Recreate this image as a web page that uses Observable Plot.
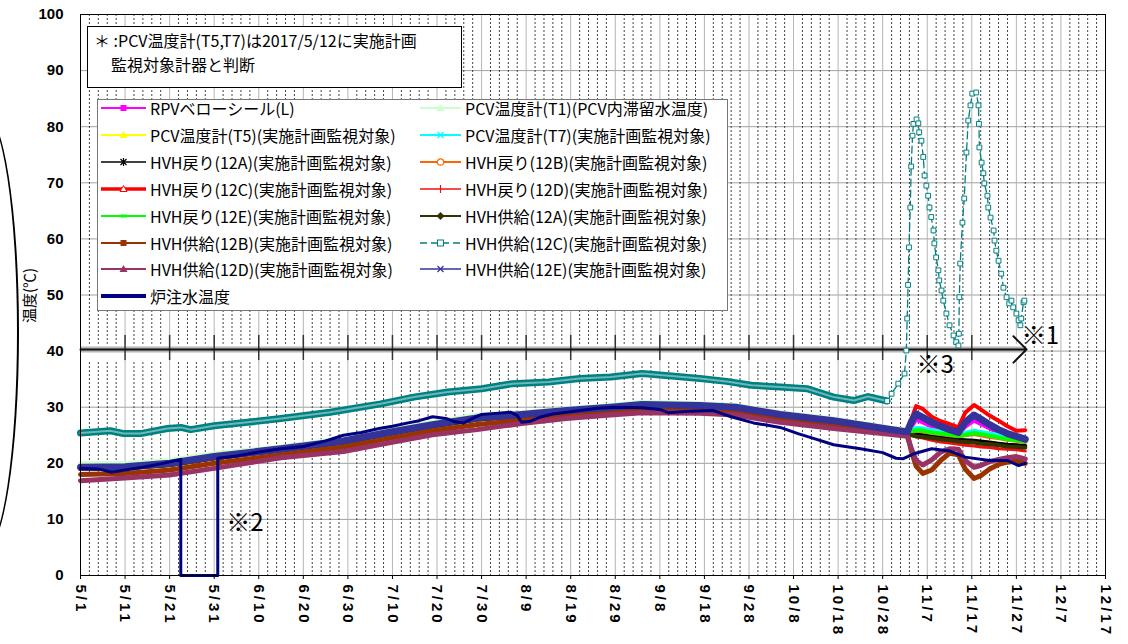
<!DOCTYPE html>
<html><head><meta charset="utf-8">
<script src="https://cdn.jsdelivr.net/npm/d3@7"></script>
<script src="https://cdn.jsdelivr.net/npm/@observablehq/plot@0.6"></script>
<style>
html,body{margin:0;padding:0;background:#fff;}
#wrap{position:relative;width:1128px;height:644px;overflow:hidden;}
#note{position:absolute;left:87px;top:26px;width:375px;height:62px;border:1px solid #000;background:#fff;box-sizing:border-box;font-family:"Noto Sans CJK JP";font-size:16px;line-height:23.5px;padding:2px 0 0 23px;text-indent:-17px;white-space:nowrap;}
#legend{position:absolute;left:97px;top:99px;width:631px;height:212px;border:1px solid #777;background:#fff;box-sizing:border-box;font-family:"Noto Sans CJK JP";font-size:16px;}
.item{position:absolute;height:20px;display:flex;align-items:center;white-space:nowrap;line-height:20px;}
.item svg{display:block;}
#ellipse{position:absolute;left:-51px;top:112px;width:70px;height:440px;border:2px solid #000;border-radius:50%;box-sizing:border-box;}
</style></head><body><div id="wrap"></div>
<script>
// ---- axis tick labels ----
const tickDays = [0,10,20,30,40,50,60,70,80,90,100,110,120,130,140,150,160,170,180,190,200,210,220,230];
const tickLabels = ["5/1","5/11","5/21","5/31","6/10","6/20","6/30","7/10","7/20","7/30","8/9","8/19","8/29","9/8","9/18","9/28","10/8","10/18","10/28","11/7","11/17","11/27","12/7","12/17"];
const yTicks = [0,10,20,30,40,50,60,70,80,90,100];

// ---- data (days since 5/1) ----
const days = [0,10,20,30,45,59,69,79,89,99,109,119,126,139,147,157,169,181,185.5,186.5,187.5,189,191,193,195,197,198.5,200.5,202,204,206,208,210,212];
const rpv    = [19.2,19.3,19.9,21.1,22.5,23.9,25.4,26.8,28.0,28.6,29.3,29.9,30.4,30.2,29.9,28.6,27.5,26.0,25.5,26.5,27.8,27.3,26.5,26.0,25.5,25.0,26.5,27.6,27.0,26.2,25.4,24.9,24.5,24.0];
const pcvT1  = [19.9,19.9,20.5,21.7,22.9,24.4,25.9,27.3,28.6,29.0,29.7,30.3,30.9,30.6,30.3,29.0,27.9,26.4,25.9,26.0,26.2,26.1,25.8,25.6,25.4,25.2,25.4,25.7,25.5,25.2,24.9,24.6,24.3,24.0];
const pcvT5  = [19.0,19.1,19.7,20.9,22.3,23.7,25.2,26.6,27.8,28.4,29.1,29.7,30.2,30.0,29.7,28.4,27.3,25.8,25.5,25.8,26.2,26.1,25.8,25.5,25.2,24.9,25.3,25.7,25.5,25.2,24.9,24.6,24.3,24.0];
const pcvT7  = [19.1,19.2,19.8,21.0,22.4,23.8,25.3,26.7,27.9,28.5,29.2,29.8,30.3,30.1,29.8,28.5,27.4,25.9,25.6,25.9,26.3,26.2,25.9,25.6,25.3,25.0,25.4,25.8,25.6,25.3,25.0,24.7,24.4,24.1];
const ret12A = [19.0,19.1,19.7,20.9,22.3,23.7,25.2,26.6,27.8,28.4,29.1,29.7,30.2,30.0,29.7,28.4,27.3,25.8,25.4,25.3,25.1,25.0,24.8,24.6,24.4,24.2,24.1,24.0,23.9,23.7,23.5,23.3,23.2,23.1];
const ret12B = [19.1,19.2,19.8,21.0,22.4,23.8,25.3,26.7,27.9,28.5,29.2,29.8,30.3,30.1,29.8,28.5,27.4,25.9,25.5,25.6,25.8,25.7,25.4,25.2,25.0,24.8,25.0,25.2,25.0,24.7,24.5,24.2,24.0,23.8];
const ret12C = [19.2,19.3,19.9,21.1,22.5,23.9,25.4,26.8,28.0,28.6,29.3,29.9,30.4,30.2,29.9,28.6,27.5,26.0,25.6,28.0,30.2,29.7,28.3,27.5,27.0,26.4,29.0,30.4,29.6,28.5,27.6,26.6,25.8,25.9];
const ret12D = [18.9,19.0,19.6,20.8,22.2,23.6,25.1,26.5,27.7,28.3,29.0,29.6,30.1,29.9,29.6,28.3,27.2,25.7,25.3,25.0,24.7,24.5,24.1,23.8,23.6,23.4,23.2,23.1,22.9,22.8,22.6,22.5,22.4,22.2];
const ret12E = [19.1,19.2,19.8,21.0,22.4,23.8,25.3,26.7,27.9,28.5,29.2,29.8,30.3,30.1,29.8,28.5,27.4,25.9,25.6,25.7,25.9,25.8,25.5,25.3,25.1,24.9,25.1,25.4,25.2,24.9,24.6,24.3,24.1,23.9];
const sup12A = [19.0,19.1,19.7,20.9,22.3,23.7,25.2,26.6,27.8,28.4,29.1,29.7,30.2,30.0,29.7,28.4,27.3,25.8,25.2,25.0,24.8,24.7,24.5,24.3,24.1,23.9,23.8,23.7,23.5,23.4,23.2,23.0,22.9,22.8];
const sup12B = [18.0,18.2,18.8,20.0,21.5,22.9,24.4,25.8,26.9,27.7,28.6,29.2,29.5,29.5,29.2,27.9,26.8,25.8,25.3,22.0,19.5,18.2,18.8,20.5,21.8,21.5,19.0,17.3,17.8,19.0,19.8,20.2,20.4,20.0];
const sup12D = [16.9,17.4,17.9,19.1,21.0,22.1,23.6,25.1,26.0,27.1,28.0,28.6,29.0,28.9,28.6,27.3,26.2,25.2,24.8,22.5,20.5,19.7,20.6,22.0,22.6,22.5,20.5,19.3,19.6,20.3,20.7,21.0,21.2,20.8];
const sup12E = [19.3,19.4,20.0,21.2,22.6,24.0,25.5,26.9,28.1,28.7,29.4,30.0,30.5,30.3,30.0,28.7,27.6,26.1,25.6,27.5,28.8,28.2,27.3,26.6,26.0,25.5,27.3,28.6,27.9,26.9,26.0,25.3,24.8,24.3];

const tealBaseDays = [0,6.7,9.7,13.5,19.5,22.5,24.7,30,37.5,45,56,67.4,74.8,82.4,90,97,105,112,119,126,132,139,145,150.5,157,163,169,173.6,176.7,181];
const tealBaseVals = [25.4,25.8,25.3,25.3,26.2,26.4,26.0,26.7,27.3,28.0,29.1,30.6,31.8,32.7,33.3,34.2,34.5,35.1,35.4,36.0,35.6,35.1,34.6,33.9,33.6,33.3,31.8,31.2,31.9,31.1];
const tealSpikeDays = [181,182,183.5,184.9,185.3,185.5,185.7,185.9,186.2,186.4,186.7,186.9,187.6,188.0,188.2,188.7,189.1,189.4,189.8,190.2,190.5,190.9,191.4,191.6,192.0,192.5,192.7,193.2,193.6,194.3,195.0,195.9,196.5,197.0,197.1,197.2,197.4,197.9,198.3,198.8,199.2,199.7,200.1,201.0,201.5,201.6,201.7,202.2,202.6,202.8,203.5,203.7,204.2,204.9,205.1,205.5,206.0,206.6,207.1,207.8,208.4,208.9,209.3,210.0,210.5,210.9,211.1,211.6,211.8];
const tealSpikeVals = [31.1,32.4,34.2,36.0,40.1,45.8,51.8,58.5,65.6,72.9,78.4,80.5,81.3,80.6,79.0,77.5,74.6,71.3,69.5,67.7,65.6,63.9,61.5,59.2,56.7,54.4,52.6,50.8,49.0,46.7,44.6,42.8,41.6,41.0,43.1,49.6,55.6,62.9,67.2,75.4,81.1,83.8,85.9,86.1,83.8,80.5,76.3,73.6,71.7,69.9,67.7,65.6,63.8,61.5,59.7,57.9,56.1,53.8,51.3,49.6,48.5,49.0,47.8,46.7,45.5,44.6,45.8,48.7,49.0];

const navyDays = [0,4,7,10,14,18,22.5,22.5,30.8,30.8,35,40,45,50,55,59,63,67,70,73.5,76,79,82,84,86,88,90,93,96.6,98,99,101,103,106,110,116,120,126,130,132,137,142,146,151,157,161,165,169,175,180,183,184.5,187,191,195,198.5,204,208,210.5,212];
const navyVals = [19.1,19.0,18.4,18.8,19.3,19.9,20.7,0,0,20.9,21.3,22.0,22.6,23.0,24.0,25.0,25.5,26.2,26.6,27.2,27.6,28.3,28.0,27.4,27.2,28.0,28.7,28.9,29.1,28.5,27.3,27.5,28.2,28.8,29.2,29.8,30.0,29.9,29.6,29.0,29.3,29.4,28.3,27.2,26.4,25.3,24.3,23.3,22.6,21.9,20.9,20.8,21.7,22.6,22.2,21.1,20.5,20.5,19.6,20.0];

// ---- annotations ----
const arrowLine = [{from:0, to:212.3, at:40.3}];
const arrowBand = [{x1:0, x2:211.5, y1:38.2, y2:41.2}];
const arrowTicks = [10,20,30,40,50,60,70,80,90,100,110,120,130,140,150,160,170,180,190,200];
const notes = [{t:"※1", day:215.4, v:42.6},{t:"※2", day:36.9, v:9.3},{t:"※3", day:191.8, v:37.4}];
const noteLines = ["＊ :PCV温度計(T5,T7)は2017/5/12に実施計画","監視対象計器と判断"];

// ---- series table ----
const series = [
  {name:"RPVベローシール(L)", d:days, v:rpv, color:"#ff00ff", w:4, lw:2, mk:"sq"},
  {name:"PCV温度計(T1)(PCV内滞留水温度)", d:days, v:pcvT1, color:"#ccffcc", w:5, lw:2, mk:"tri"},
  {name:"PCV温度計(T5)(実施計画監視対象)", d:days, v:pcvT5, color:"#ffff00", w:4, lw:2, mk:"tri"},
  {name:"PCV温度計(T7)(実施計画監視対象)", d:days, v:pcvT7, color:"#00ffff", w:4, lw:2, mk:"x"},
  {name:"HVH戻り(12A)(実施計画監視対象)", d:days, v:ret12A, color:"#000000", w:4, lw:1.5, mk:"star"},
  {name:"HVH戻り(12B)(実施計画監視対象)", d:days, v:ret12B, color:"#ff6600", w:4, lw:2, mk:"circ"},
  {name:"HVH戻り(12C)(実施計画監視対象)", d:days, v:ret12C, color:"#ff0000", w:4, lw:3.5, mk:"triO"},
  {name:"HVH戻り(12D)(実施計画監視対象)", d:days, v:ret12D, color:"#ee1111", w:3, lw:1.5, mk:"plus"},
  {name:"HVH戻り(12E)(実施計画監視対象)", d:days, v:ret12E, color:"#00ff00", w:4, lw:2, mk:"dash"},
  {name:"HVH供給(12A)(実施計画監視対象)", d:days, v:sup12A, color:"#333300", w:4, lw:2, mk:"dia"},
  {name:"HVH供給(12B)(実施計画監視対象)", d:days, v:sup12B, color:"#993300", w:5, lw:2, mk:"sq"},
  {name:"HVH供給(12C)(実施計画監視対象)", d:tealBaseDays, v:tealBaseVals, color:"#008080", w:7, lw:1.6, mk:"sqO", dash:"7,4"},
  {name:"HVH供給(12D)(実施計画監視対象)", d:days, v:sup12D, color:"#993366", w:5, lw:2, mk:"tri"},
  {name:"HVH供給(12E)(実施計画監視対象)", d:days, v:sup12E, color:"#333399", w:7, lw:1.6, mk:"x"},
  {name:"炉注水温度", d:navyDays, v:navyVals, color:"#000080", w:3, lw:4, mk:null}
];
const rows = (ds, vs) => ds.map((d, i) => ({day: d, v: vs[i]}));

const minorDays = d3.range(0, 231, 2).filter(d => d % 10 !== 0);

const lineMarks = [];
series.forEach((s, i) => {
  lineMarks.push(Plot.line(rows(s.d, s.v), {x:"day", y:"v", stroke:s.color, strokeWidth:s.w, strokeLinejoin:"round", strokeLinecap:"round"}));
  if (i === 11) lineMarks.push(Plot.line(rows(s.d, s.v), {x:"day", y:"v", stroke:"#6ab8b8", strokeWidth:2}));
});
const tealSpike = rows(tealSpikeDays, tealSpikeVals);

const chart = Plot.plot({
  width: 1128, height: 644,
  marginTop: 14, marginRight: 23, marginBottom: 69, marginLeft: 80,
  style: {fontFamily: "Liberation Sans, Arial, sans-serif", fontSize: "15px", background: "white"},
  x: {domain: [0, 230]},
  y: {domain: [0, 100]},
  marks: [
    Plot.ruleY(yTicks, {stroke: "#a0a0a0"}),
    Plot.ruleX(minorDays, {stroke: "#222", strokeDasharray: "2,2", strokeOpacity: 0.85}),
    Plot.ruleX(tickDays, {stroke: "#b5b5b5"}),
    Plot.rect(arrowBand, {x1:"x1", x2:"x2", y1:"y1", y2:"y2", fill:"white"}),
    Plot.ruleY(arrowLine, {y:"at", x1:"from", x2:"to", stroke:"#999", strokeWidth:6, strokeOpacity:0.7}),
    Plot.ruleX(arrowTicks.map(d => ({d})), {x:"d", y1: () => 38.3, y2: () => 42.8, stroke:"#333", strokeWidth:1.5}),
    Plot.arrow(arrowLine, {x1:"from", x2:"to", y1:"at", y2:"at", stroke:"#111", strokeWidth:2, headAngle:90, headLength:14}),
    ...lineMarks,
    Plot.line(tealSpike, {x:"day", y:"v", stroke:"#008080", strokeWidth:1.3, strokeDasharray:"7,4"}),
    Plot.dot(tealSpike, {x:"day", y:"v", symbol:"square", r:2.7, stroke:"#008080", fill:"white", strokeWidth:1}),
    Plot.text(notes, {x:"day", y:"v", text:"t", fontSize:24, fontFamily:"Noto Sans CJK JP", fill:"black"}),
    Plot.text([{t:"温度(℃)", v:45}], {y:"v", text:"t", frameAnchor:"left", dx:-50, rotate:-90, fontSize:15, fontFamily:"Noto Sans CJK JP"}),
    Plot.frame({stroke:"black"}),
    Plot.axisX({ticks: tickDays, tickFormat: d => tickLabels[tickDays.indexOf(d)], tickRotate: 90, tickSize: 4, tickPadding: 5, label: null, fontSize: 15, fontWeight: "bold"}),
    Plot.axisY({ticks: yTicks, tickSize: 0, tickPadding: 17, label: null, fontSize: 15, fontWeight: "bold"})
  ]
});
d3.select(chart).selectAll('[aria-label="x-axis tick label"] text').attr("letter-spacing", "3px");

const wrap = document.getElementById("wrap");
wrap.appendChild(chart);

// ellipse decoration
const el = document.createElement("div"); el.id = "ellipse"; wrap.appendChild(el);

// note box (one text block, hanging indent for the 2nd line)
const note = document.createElement("div"); note.id = "note";
note.innerHTML = `${noteLines[0]}<br>${noteLines[1]}`;
wrap.appendChild(note);

// legend
function markerSvg(s, w) {
  const cx = w / 2, cy = 10, c = s.color;
  let line = `<line x1="0" y1="${cy}" x2="${w}" y2="${cy}" stroke="${c}" stroke-width="${s.lw}" ${s.dash ? `stroke-dasharray="${s.dash}"` : ""}/>`;
  let m = "";
  switch (s.mk) {
    case "sq": m = `<rect x="${cx-3}" y="${cy-3}" width="6" height="6" fill="${c}"/>`; break;
    case "sqO": m = `<rect x="${cx-3}" y="${cy-3}" width="6" height="6" fill="white" stroke="${c}" stroke-width="1"/>`; break;
    case "tri": m = `<polygon points="${cx},${cy-4} ${cx+4},${cy+3} ${cx-4},${cy+3}" fill="${c}"/>`; break;
    case "triO": m = `<polygon points="${cx},${cy-3.5} ${cx+3.5},${cy+2.5} ${cx-3.5},${cy+2.5}" fill="white" stroke="${c}" stroke-width="1"/>`; break;
    case "x": m = `<path d="M${cx-3},${cy-3}L${cx+3},${cy+3}M${cx-3},${cy+3}L${cx+3},${cy-3}" stroke="${c}" stroke-width="1.2"/>`; break;
    case "star": m = `<path d="M${cx-3},${cy-3}L${cx+3},${cy+3}M${cx-3},${cy+3}L${cx+3},${cy-3}M${cx},${cy-4}L${cx},${cy+4}" stroke="${c}" stroke-width="1.2"/>`; break;
    case "plus": m = `<path d="M${cx},${cy-4}L${cx},${cy+4}" stroke="${c}" stroke-width="1.2"/>`; break;
    case "circ": m = `<circle cx="${cx}" cy="${cy}" r="3.2" fill="white" stroke="${c}" stroke-width="1.2"/>`; break;
    case "dash": m = `<line x1="${cx-3}" y1="${cy}" x2="${cx+3}" y2="${cy}" stroke="${c}" stroke-width="3"/>`; break;
    case "dia": m = `<polygon points="${cx},${cy-4} ${cx+4},${cy} ${cx},${cy+4} ${cx-4},${cy}" fill="${c}"/>`; break;
  }
  return `<svg width="${w}" height="20">${line}${m}</svg>`;
}
const legend = document.createElement("div"); legend.id = "legend";
const col1 = [0,2,4,6,8,10,12,14], col2 = [1,3,5,7,9,11,13];
function addItem(idx, col, row) {
  const s = series[idx];
  const it = document.createElement("div"); it.className = "item";
  const w = col === 0 ? 45 : 41;
  it.style.left = (col === 0 ? 3 : 322) + "px";
  it.style.top = (9 + row * 26.9 - 11) + "px";
  it.innerHTML = markerSvg(s, w) + `<span style="margin-left:4px">${s.name}</span>`;
  legend.appendChild(it);
}
col1.forEach((idx, r) => addItem(idx, 0, r));
col2.forEach((idx, r) => addItem(idx, 1, r));
wrap.appendChild(legend);
</script></body></html>
